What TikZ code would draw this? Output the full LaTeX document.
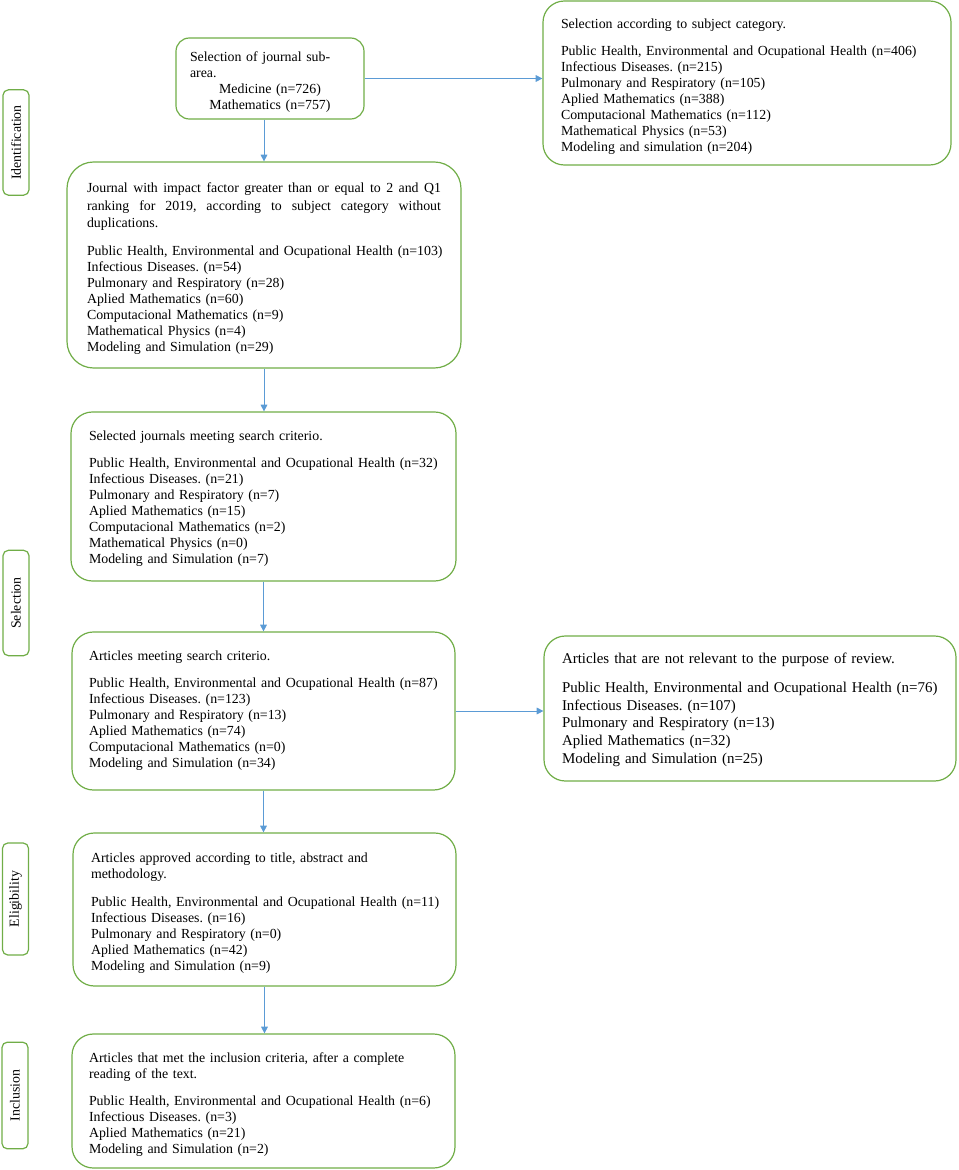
\documentclass[tikz,border=0pt]{standalone}
\usepackage{fontspec}
\setmainfont{Liberation Serif}
\usepackage{tikz}
\usetikzlibrary{arrows.meta}
\definecolor{PGreen}{HTML}{70AD47}
\definecolor{PBlue}{HTML}{5B9BD5}
\frenchspacing
\newcommand{\jline}[1]{\leavevmode\hbox to\linewidth{\spaceskip=0.25em plus 1fil\relax #1}}
\begin{document}
\begin{tikzpicture}[x=0.75pt,y=-0.75pt,>={Triangle[length=5pt,width=5pt]}]
  \tikzstyle{pbox}=[draw=PGreen,line width=0.9pt,rounded corners=16pt,
    align=left,inner ysep=0pt,font=\fontsize{10.4}{12}\selectfont,
    execute at begin node={\rule{0pt}{12.5pt}}]
  \tikzstyle{stage}=[draw=PGreen,line width=0.9pt,rounded corners=4pt,
    rotate=90,minimum width=79pt,minimum height=19.5pt,inner sep=0pt,
    font=\fontsize{10.4}{12}\selectfont]
  \tikzstyle{flow}=[->,draw=PBlue,line width=0.6pt,PBlue]
  \useasboundingbox (0,0) rectangle (958,1170);
  % identification
  \node[pbox,rounded corners=10pt,text width=120pt,inner xsep=10.5pt,
    minimum height=60.75pt] (sub) at (270,78.5)
    {Selection of journal sub-\\area.\\
     \makebox[\linewidth]{Medicine (n=726)}\\
     \makebox[\linewidth]{Mathematics (n=757)}};
  \node[pbox,text width=279pt,inner xsep=13.5pt,minimum height=123pt]
    (cat) at (747,83)
    {Selection according to subject category.\\[8.5pt]
     \mbox{Public Health, Environmental and Ocupational Health (n=406)}\\
     Infectious Diseases. (n=215)\\
     Pulmonary and Respiratory (n=105)\\
     Aplied Mathematics (n=388)\\
     Computacional Mathematics (n=112)\\
     Mathematical Physics (n=53)\\
     Modeling and simulation (n=204)};
  \node[pbox,rounded corners=20pt,text width=265.5pt,inner xsep=15pt,
    minimum height=154.5pt] (impact) at (264,265)
    {\jline{Journal with impact factor greater than or equal to 2 and Q1}\\[1.5pt]
     \jline{ranking for 2019, according to subject category without}\\[1pt]
     duplications.\\[8.5pt]
     \mbox{Public Health, Environmental and Ocupational Health (n=103)}\\
     Infectious Diseases. (n=54)\\
     Pulmonary and Respiratory (n=28)\\
     Aplied Mathematics (n=60)\\
     Computacional Mathematics (n=9)\\
     Mathematical Physics (n=4)\\
     Modeling and Simulation (n=29)};
  % selection
  \node[pbox,text width=261.75pt,inner xsep=13.5pt,minimum height=126.75pt]
    (criterio) at (263.5,496.5)
    {Selected journals meeting search criterio.\\[8.5pt]
     \mbox{Public Health, Environmental and Ocupational Health (n=32)}\\
     Infectious Diseases. (n=21)\\
     Pulmonary and Respiratory (n=7)\\
     Aplied Mathematics (n=15)\\
     Computacional Mathematics (n=2)\\
     Mathematical Physics (n=0)\\
     Modeling and Simulation (n=7)\rule[-4pt]{0pt}{4pt}};
  \node[pbox,text width=261.75pt,inner xsep=12.75pt,minimum height=118.5pt]
    (articles) at (263.5,711)
    {Articles meeting search criterio.\\[8.5pt]
     \mbox{Public Health, Environmental and Ocupational Health (n=87)}\\
     Infectious Diseases. (n=123)\\
     Pulmonary and Respiratory (n=13)\\
     Aplied Mathematics (n=74)\\
     Computacional Mathematics (n=0)\\
     Modeling and Simulation (n=34)\rule[-8pt]{0pt}{8pt}};
  \node[pbox,text width=282pt,inner xsep=13.5pt,minimum height=108.75pt,
    font=\fontsize{11.2}{13.2}\selectfont,
    execute at begin node={\rule{0pt}{11pt}}] (notrel) at (750,708.5)
    {Articles that are not relevant to the purpose of review.\\[8.5pt]
     \mbox{Public Health, Environmental and Ocupational Health (n=76)}\\
     Infectious Diseases. (n=107)\\
     Pulmonary and Respiratory (n=13)\\
     Aplied Mathematics (n=32)\\
     Modeling and Simulation (n=25)\rule[-5pt]{0pt}{5pt}};
  % eligibility and inclusion
  \node[pbox,text width=260.25pt,inner xsep=13.5pt,minimum height=114.75pt]
    (approved) at (264.5,909.5)
    {Articles approved according to title, abstract and\\
     methodology.\\[8.5pt]
     \mbox{Public Health, Environmental and Ocupational Health (n=11)}\\
     Infectious Diseases. (n=16)\\
     Pulmonary and Respiratory (n=0)\\
     Aplied Mathematics (n=42)\\
     Modeling and Simulation (n=9)};
  \node[pbox,text width=261.75pt,inner xsep=12.75pt,minimum height=100.5pt]
    (included) at (263.5,1101)
    {Articles that met the inclusion criteria, after a complete\\
     reading of the text.\\[8.5pt]
     \mbox{Public Health, Environmental and Ocupational Health (n=6)}\\
     Infectious Diseases. (n=3)\\
     Aplied Mathematics (n=21)\\
     Modeling and Simulation (n=2)};
  % stage labels
  \node[stage] (ident) at (16,142.5) {Identification};
  \node[stage] (selec) at (16,603) {Selection};
  \node[stage,minimum width=84pt] (elig) at (15.5,899) {Eligibility};
  \node[stage,minimum width=80pt] (incl) at (15,1095.5) {Inclusion};
  % connectors
  \draw[flow] (impact.north |- sub.south) -- (impact.north);
  \draw[flow] (sub.east) -- (sub.east -| cat.west);
  \draw[flow] (impact.south) -- (impact.south |- criterio.north);
  \draw[flow] (criterio.south) -- (criterio.south |- articles.north);
  \draw[flow] (articles.east) -- (articles.east -| notrel.west);
  \draw[flow] (articles.south) -- (articles.south |- approved.north);
  \draw[flow] (approved.south) -- (approved.south |- included.north);
\end{tikzpicture}
\end{document}
